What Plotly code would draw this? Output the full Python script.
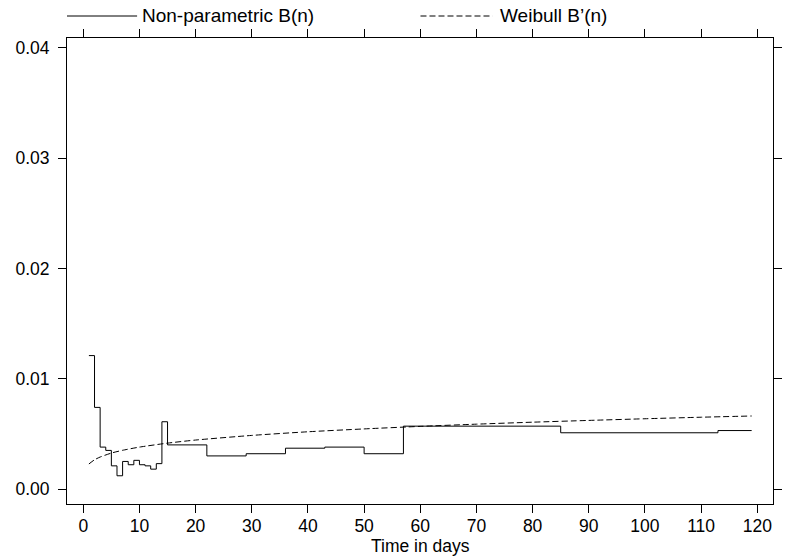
import plotly.graph_objects as go

# Non-parametric step estimate B(n): value holds from each day until the next
np_days = [1, 2, 3, 4, 5, 6, 7, 8, 9, 10, 11, 12, 13, 14, 15, 22, 29, 36, 43, 50, 57, 85, 113, 119]
np_vals = [0.0121, 0.0074, 0.0038, 0.0035, 0.0021, 0.0012, 0.0025, 0.0022, 0.0026, 0.0022,
           0.0021, 0.0018, 0.0023, 0.0061, 0.0040, 0.0030, 0.0032, 0.0037, 0.0038, 0.0032,
           0.0057, 0.0051, 0.0053, 0.0053]

# Weibull fit B'(n), read at several days
wb_days = [1, 2, 3, 5, 7, 10, 15, 20, 30, 40, 50, 60, 70, 80, 90, 100, 110, 119]
wb_vals = [0.00227, 0.00265, 0.00290, 0.00326, 0.00351, 0.00380, 0.00416, 0.00444, 0.00486,
           0.00519, 0.00545, 0.00568, 0.00588, 0.00606, 0.00622, 0.00637, 0.00651, 0.00662]

x_ticks = list(range(0, 121, 10))
y_ticks = [0.00, 0.01, 0.02, 0.03, 0.04]
y_tick_labels = ["0.00", "0.01", "0.02", "0.03", "0.04"]

legend_labels = ["Non-parametric B(n)", "Weibull B\u2019(n)"]
x_title = "Time in days"

FONT = "Liberation Sans, Arial, sans-serif"

fig = go.Figure()
fig.add_trace(go.Scatter(x=np_days, y=np_vals, mode="lines", line=dict(color="black", width=1, shape="hv"),
                         name=legend_labels[0], showlegend=False, hoverinfo="skip"))
fig.add_trace(go.Scatter(x=wb_days, y=wb_vals, mode="lines",
                         line=dict(color="black", width=1, dash="6px,3px", shape="spline", smoothing=0.6),
                         name=legend_labels[1], showlegend=False, hoverinfo="skip"))

axis_common = dict(showline=True, linecolor="black", linewidth=1, mirror="ticks", ticks="outside",
                   ticklen=8, tickwidth=1, tickcolor="black", showgrid=False, zeroline=False,
                   tickfont=dict(family=FONT, size=17.5, color="black"))

fig.update_xaxes(range=[-2.9, 122.8], tickvals=x_ticks, ticklabelstandoff=-2, **axis_common)
fig.update_yaxes(range=[-0.00136, 0.0409], tickvals=y_ticks, ticktext=y_tick_labels,
                 ticklabelstandoff=5, **axis_common)

# manual legend at the top
ly = 1 + (38 - 16) / 466
shapes = [
    dict(type="line", xref="paper", yref="paper", x0=0.0, x1=0.0993, y0=ly, y1=ly,
         line=dict(color="black", width=1)),
    dict(type="line", xref="paper", yref="paper", x0=0.5007, x1=0.6028, y0=ly, y1=ly,
         line=dict(color="black", width=1, dash="6px,3px")),
]
annotations = [
    dict(text=legend_labels[0], xref="paper", yref="paper", x=0.104, y=ly, xanchor="left", yanchor="middle",
         showarrow=False, font=dict(family=FONT, size=19, color="black")),
    dict(text=legend_labels[1], xref="paper", yref="paper", x=0.611, y=ly, xanchor="left", yanchor="middle",
         showarrow=False, font=dict(family=FONT, size=19, color="black")),
    dict(text=x_title, xref="paper", yref="paper", x=0.5, y=(504 - 546) / 466, xanchor="center",
         yanchor="middle", showarrow=False, borderpad=0, font=dict(family=FONT, size=17.5, color="black")),
]

fig.update_layout(width=788, height=558, margin=dict(l=67, r=6, t=38, b=54),
                  paper_bgcolor="white", plot_bgcolor="white", shapes=shapes, annotations=annotations,
                  font=dict(family=FONT, size=18, color="black"), showlegend=False)

fig.write_html("out.html", config={"displayModeBar": False},
               post_script="document.body.style.margin='0';")
